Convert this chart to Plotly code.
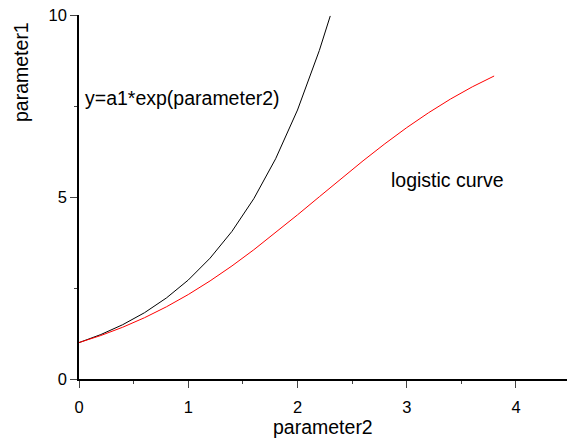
import plotly.graph_objects as go

# Data
exp_x = [0.0, 0.2, 0.4, 0.6, 0.8, 1.0, 1.2, 1.4, 1.6, 1.8, 2.0, 2.2, 2.3]
exp_y = [1.0, 1.221, 1.492, 1.822, 2.226, 2.718, 3.320, 4.055, 4.953, 6.050, 7.389, 9.025, 9.974]

log_x = [0.0, 0.2, 0.4, 0.6, 0.8, 1.0, 1.2, 1.4, 1.6, 1.8, 2.0, 2.2, 2.4, 2.6, 2.8,
         3.0, 3.2, 3.4, 3.6, 3.8]
log_y = [1.0, 1.195, 1.422, 1.684, 1.983, 2.320, 2.695, 3.106, 3.550, 4.020, 4.509,
         5.007, 5.506, 5.994, 6.463, 6.906, 7.315, 7.690, 8.026, 8.324]

x_ticks = [0, 1, 2, 3, 4]
y_ticks = [0, 5, 10]

FONT = "Arial, 'Liberation Sans', sans-serif"

fig = go.Figure()
fig.add_trace(go.Scatter(x=exp_x, y=exp_y, mode="lines",
                         line=dict(color="black", width=1), showlegend=False))
fig.add_trace(go.Scatter(x=log_x, y=log_y, mode="lines",
                         line=dict(color="#ff0000", width=1), showlegend=False))

fig.update_layout(
    width=567, height=439,
    margin=dict(l=79, r=0, t=15, b=60),
    paper_bgcolor="white", plot_bgcolor="white",
    font=dict(family=FONT, size=16, color="black"),
    showlegend=False,
    xaxis=dict(range=[0, 4.467], tickvals=x_ticks, ticks="outside", ticklen=7,
               tickwidth=1.3, showline=True, linecolor="black", linewidth=1.5,
               showgrid=False, zeroline=False, tickfont=dict(size=16.5),
               ticklabelstandoff=5,
               minor=dict(dtick=0.5, tick0=0, ticks="outside", ticklen=3,
                          tickwidth=1.3, showgrid=False)),
    yaxis=dict(range=[0, 10], tickvals=y_ticks, ticks="outside", ticklen=7,
               tickwidth=1.3, showline=True, linecolor="black", linewidth=1.5,
               showgrid=False, zeroline=False, tickfont=dict(size=16.5),
               minor=dict(dtick=2.5, tick0=0, ticks="outside", ticklen=3,
                          tickwidth=1.3, showgrid=False)),
)

fig.add_annotation(text="parameter2", xref="paper", yref="paper", x=0.5, y=0,
                   yshift=-48, xanchor="center", yanchor="middle",
                   showarrow=False, font=dict(size=19.5))
fig.add_annotation(text="parameter1", xref="paper", yref="paper", x=0, y=1,
                   xshift=-58, yshift=-57, textangle=-90, xanchor="center",
                   yanchor="middle", showarrow=False, font=dict(size=19.5))
fig.add_annotation(text="y=a1*exp(parameter2)", xref="x", yref="y", x=0.04, y=7.72,
                   xanchor="left", yanchor="middle", showarrow=False,
                   font=dict(size=19.5))
fig.add_annotation(text="logistic curve", xref="x", yref="y", x=2.84, y=5.47,
                   xanchor="left", yanchor="middle", showarrow=False,
                   font=dict(size=19.5))

fig.write_html("out.html")
